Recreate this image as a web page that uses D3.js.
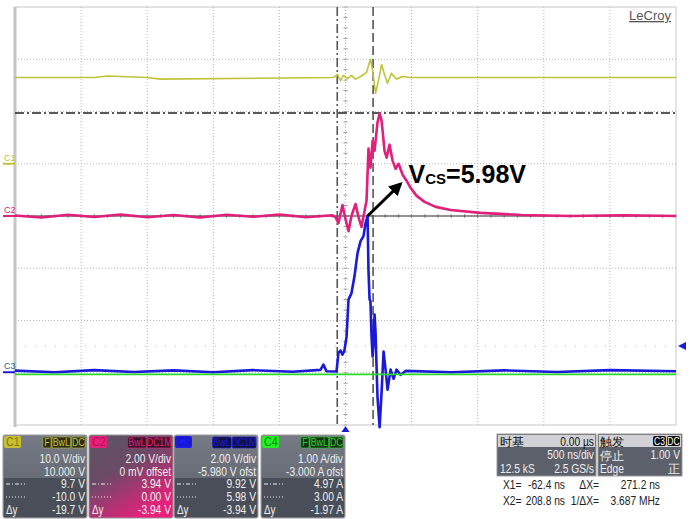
<!DOCTYPE html>
<html>
<head>
<meta charset="utf-8">
<script src="https://cdnjs.cloudflare.com/ajax/libs/d3/7.8.5/d3.min.js"></script>
<style>
	body { margin: 0; background: #fff; }
	#scope { width: 693px; height: 519px; }
	.panel text { font-family: "Liberation Sans", Arial, sans-serif; }
</style>
</head>
<body>
<div id="scope"></div>
<script>
// Scope capture data (time in ns, values in channel units)
var c1Time = [-2500, -1900, -1800, -1500, -1400, -91, -61, -38, -15, 15, 45, 76, 114, 159, 189, 205, 227, 250, 273, 295, 318, 348, 386, 432, 492, 2500];
var c1Volt = [16.5, 16.5, 16.8, 16.5, 16.2, 16.5, 17.1, 15.9, 16.9, 16.3, 16.9, 16.2, 16.7, 17.5, 20.0, 17.9, 13.5, 16.0, 19.0, 17.1, 15.4, 17.3, 16.2, 16.7, 16.5, 16.5];

var c2Time = [-2500, -2300, -2100, -1900, -1700, -1500, -1300, -1100, -900, -700, -500, -300, -100, -76, -53, -23, 0, 23, 45, 76, 98, 121, 144, 159, 174, 189, 205, 220, 242, 258, 273, 295, 311, 333, 356, 379, 402, 432, 462, 492, 538, 598, 682, 795, 1023, 1326, 1700, 2100, 2500];
var c2Volt = [0.02, -0.06, 0.05, -0.04, 0.06, -0.05, 0.04, -0.06, 0.05, -0.03, 0.06, -0.05, 0.03, -0.04, -0.27, 0.42, -0.12, -0.58, 0, 0.46, -0.04, -0.42, 0.19, 0.58, 2.58, 1.85, 2.88, 2.5, 3.58, 3.92, 3.65, 2.5, 2.23, 2.73, 2.12, 1.81, 2.0, 1.58, 1.35, 1.08, 0.77, 0.54, 0.35, 0.23, 0.12, 0.04, 0.0, 0.03, 0.0];

var c3Time = [-2500, -2200, -1900, -1600, -1300, -1000, -700, -400, -189, -167, -144, -68, -53, -38, -23, -8, 8, 23, 45, 68, 91, 114, 136, 152, 167, 174, 182, 189, 197, 205, 212, 220, 227, 235, 242, 258, 273, 288, 303, 318, 341, 364, 386, 417, 455, 800, 1200, 1600, 2000, 2500];
var c3Volt = [0.06, 0.0, 0.08, 0.01, 0.07, 0.0, 0.08, 0.02, 0.09, 0.29, 0.04, 0.03, 0.75, 0.83, 0.67, 0.83, 1.37, 2.79, 3.02, 3.67, 4.56, 5.02, 5.21, 5.71, 5.98, 3.87, 2.79, 2.71, 1.37, 0.6, 1.17, 2.21, 1.56, 0.21, -0.94, -2.1, -0.75, 0.79, 0.1, -0.67, 0.1, -0.25, 0.1, -0.1, 0.05, 0.0, 0.07, 0.01, 0.08, 0.04];

var c4Time = [-2500, 2500];
var c4Amp = [-0.03, -0.03];

// Channel settings (per div, offset) as shown in the info boxes
var chNames = ["C1", "C2", "C3", "C4"];
var chPerDiv = [10, 2, 2, 1];
var chOffset = [10, 0, -5.98, -3];
var chColors = ["#c2c23a", "#e0207a", "#1a1ad8", "#2ad82a"];
var chFlags = [["F", "BwL", "DC"], ["BwL", "DC1M"], ["BwL", "DC1M"], ["F", "BwL", "DC"]];
var chLine1 = ["10.0 V/div", "2.00 V/div", "2.00 V/div", "1.00 A/div"];
var chLine2 = ["10.000 V", "0 mV offset", "-5.980 V ofst", "-3.000 A ofst"];
var chCursorA = ["9.7 V", "3.94 V", "9.92 V", "4.97 A"];
var chCursorB = ["-10.0 V", "0.00 V", "5.98 V", "3.00 A"];
var chDeltaY = ["-19.7 V", "-3.94 V", "-3.94 V", "-1.97 A"];

// cursors
var cursorX1 = -62.4, cursorX2 = 208.8;       // ns
var cursorY1 = 3.94, cursorY2 = 0.0;          // C2 volts
var trigLevel = 1.00;                          // C3 volts

// annotation (arrow from C3 peak, label in C2 units)
var arrowTail = [167, 5.98];   // C3
var arrowHead = [417, 1.23];   // C2
var labelPos = [477, 1.25];    // C2

// condensed text helper (narrow scope font)
function ctext(g, x, y, str, opt){
	opt = opt || {};
	return g.append("text")
		.attr("transform", "translate(" + x + "," + y + ") scale(" + (opt.sx || 0.82) + ",1)")
		.attr("text-anchor", opt.anchor || "start")
		.attr("font-size", opt.size || 12.5)
		.attr("font-family", opt.family || null)
		.attr("fill", opt.fill || "#eee")
		.text(str);
}

function drawScope(){
	var W = 693, H = 519;
	var plot = {left: 15, right: 676, top: 7, bottom: 425};

	var svg = d3.select("#scope").append("svg")
				.attr("width", W).attr("height", H);
	var defs = svg.append("defs");

	// scales
	var x = d3.scaleLinear().domain([-2500, 2500]).range([plot.left, plot.right]);
	var yDiv = d3.scaleLinear().domain([-4, 4]).range([plot.bottom, plot.top]);
	function yCh(i){ // channel value -> pixel
		return function(v){ return yDiv((v + chOffset[i]) / chPerDiv[i]); };
	}

	// grid (dotted)
	var grid = svg.append("g").attr("class", "grid");
	grid.selectAll("line.v").data(d3.range(-2000, 2001, 500)).enter().append("line")
		.attr("x1", function(d){ return x(d); }).attr("x2", function(d){ return x(d); })
		.attr("y1", plot.top).attr("y2", plot.bottom)
		.attr("stroke", "#b4b4b4").attr("stroke-dasharray", "1,2");
	grid.selectAll("line.h").data(d3.range(-3, 4, 1)).enter().append("line")
		.attr("y1", function(d){ return yDiv(d); }).attr("y2", function(d){ return yDiv(d); })
		.attr("x1", plot.left).attr("x2", plot.right)
		.attr("stroke", "#b4b4b4").attr("stroke-dasharray", "1,2");

	// small ticks along the centre lines
	grid.selectAll("line.tx").data(d3.range(-2500, 2501, 100)).enter().append("line")
		.attr("x1", function(d){ return x(d); }).attr("x2", function(d){ return x(d); })
		.attr("y1", yDiv(0) - 2).attr("y2", yDiv(0) + 2)
		.attr("stroke", "#999");
	grid.selectAll("line.ty").data(d3.range(-4, 4.01, 0.2)).enter().append("line")
		.attr("y1", function(d){ return yDiv(d); }).attr("y2", function(d){ return yDiv(d); })
		.attr("x1", x(0) - 2).attr("x2", x(0) + 2)
		.attr("stroke", "#999");

	// frame
	svg.append("rect").attr("x", plot.left).attr("y", plot.top)
		.attr("width", plot.right - plot.left).attr("height", plot.bottom - plot.top)
		.attr("fill", "none").attr("stroke", "#c8c8c8");
	svg.append("line").attr("x1", plot.left).attr("x2", plot.left)
		.attr("y1", plot.top).attr("y2", plot.bottom + 2)
		.attr("stroke", "#c4c4c4").attr("stroke-width", 3);

	// LeCroy logo
	svg.append("text").attr("x", 671).attr("y", 20).attr("text-anchor", "end")
		.attr("font-family", "Liberation Sans, Arial, sans-serif").attr("font-size", 13)
		.attr("fill", "#555").attr("text-decoration", "underline").text("LeCroy");

	// trigger level (C3) sparse dotted line
	svg.append("line").attr("x1", plot.left).attr("x2", plot.right)
		.attr("y1", yCh(2)(trigLevel)).attr("y2", yCh(2)(trigLevel))
		.attr("stroke", "#bbb").attr("stroke-dasharray", "1,9");

	// horizontal cursors (on C2)
	svg.append("line").attr("x1", plot.left).attr("x2", plot.right)
		.attr("y1", yCh(1)(cursorY1)).attr("y2", yCh(1)(cursorY1))
		.attr("stroke", "#222").attr("stroke-width", 1.5).attr("stroke-dasharray", "9,3,2,3");
	svg.append("line").attr("x1", plot.left).attr("x2", plot.right)
		.attr("y1", yCh(1)(cursorY2)).attr("y2", yCh(1)(cursorY2))
		.attr("stroke", "#333").attr("stroke-width", 1.2);

	// vertical cursors
	svg.append("line").attr("x1", x(cursorX1)).attr("x2", x(cursorX1))
		.attr("y1", plot.top).attr("y2", plot.bottom)
		.attr("stroke", "#555").attr("stroke-width", 1.6).attr("stroke-dasharray", "9,3,2,3");
	svg.append("line").attr("x1", x(cursorX2)).attr("x2", x(cursorX2))
		.attr("y1", plot.top).attr("y2", plot.bottom)
		.attr("stroke", "#555").attr("stroke-width", 1.6).attr("stroke-dasharray", "9,4");

	// traces
	function trace(ts, vs, i, w){
		var pts = ts.map(function(t, k){ return [t, vs[k]]; });
		var line = d3.line().x(function(d){ return x(d[0]); }).y(function(d){ return yCh(i)(d[1]); });
		svg.append("path").datum(pts).attr("d", line)
			.attr("fill", "none").attr("stroke", chColors[i])
			.attr("stroke-width", w).attr("stroke-linejoin", "round");
	}
	trace(c1Time, c1Volt, 0, 1.6);
	trace(c2Time, c2Volt, 1, 2.6);
	trace(c3Time, c3Volt, 2, 2.6);
	trace(c4Time, c4Amp, 3, 1.8);

	// channel markers at left edge
	[0, 1, 2].forEach(function(i){
		var yy = yCh(i)(0);
		svg.append("line").attr("x1", 3).attr("x2", plot.left).attr("y1", yy).attr("y2", yy)
			.attr("stroke", chColors[i]).attr("stroke-width", 2);
		svg.append("text").attr("x", 4).attr("y", yy - 3)
			.attr("font-family", "Liberation Sans, Arial, sans-serif").attr("font-size", 9)
			.attr("fill", i == 2 ? "#1a6a8a" : chColors[i]).text(chNames[i]);
	});

	// trigger arrows
	var ty = yCh(2)(trigLevel);
	svg.append("path").attr("d", "M678," + ty + " l8,-4 l0,8 z").attr("fill", "#1a1ad8");
	svg.append("path").attr("d", "M" + x(0) + "," + (plot.bottom + 1) + " l-4,6 l8,0 z").attr("fill", "#1a1ad8");

	// annotation arrow + label
	defs.append("marker").attr("id", "ah").attr("viewBox", "0 0 10 10")
		.attr("refX", 8).attr("refY", 5).attr("markerWidth", 4.5).attr("markerHeight", 4.5)
		.attr("orient", "auto").append("path").attr("d", "M0,0 L10,5 L0,10 z").attr("fill", "#000");
	svg.append("line")
		.attr("x1", x(arrowTail[0])).attr("y1", yCh(2)(arrowTail[1]))
		.attr("x2", x(arrowHead[0])).attr("y2", yCh(1)(arrowHead[1]))
		.attr("stroke", "#000").attr("stroke-width", 3).attr("marker-end", "url(#ah)");
	var lbl = svg.append("text").attr("x", x(labelPos[0])).attr("y", yCh(1)(labelPos[1]))
		.attr("font-family", "Liberation Sans, Arial, sans-serif").attr("font-weight", "bold")
		.attr("font-size", 25).attr("fill", "#000");
	lbl.append("tspan").text("V");
	lbl.append("tspan").attr("font-size", 15).attr("dy", 1).text("CS");
	lbl.append("tspan").attr("dy", -1).text("=5.98V");

	// ---- bottom info panel ----
	var panel = svg.append("g").attr("class", "panel");
	var gd = defs.append("linearGradient").attr("id", "gGrey").attr("x1", 0).attr("y1", 0).attr("x2", 0).attr("y2", 1);
	gd.append("stop").attr("offset", "0").attr("stop-color", "#777b85");
	gd.append("stop").attr("offset", "1").attr("stop-color", "#5a5e68");
	var gp = defs.append("linearGradient").attr("id", "gPink").attr("x1", 0).attr("y1", 0).attr("x2", 0.6).attr("y2", 1);
	gp.append("stop").attr("offset", "0").attr("stop-color", "#5c5662");
	gp.append("stop").attr("offset", "0.45").attr("stop-color", "#6a4a66");
	gp.append("stop").attr("offset", "1").attr("stop-color", "#e8207c");

	var boxX = [3, 89, 174, 261], bw = 84, bTop = 435, bBot = 518;
	var badgeFill = ["#c8c030", "#e8207a", "#1a1aee", "#22ee22"];
	var badgeText = ["#7a7a18", "#a81458", "#1414a8", "#108a10"];
	var flagFill = ["#2e2e14", "#3a1428", "#12123e", "#143214"];

	chNames.forEach(function(name, i){
		var bx = boxX[i];
		var g = panel.append("g");
		g.append("rect").attr("x", bx).attr("y", bTop).attr("width", bw).attr("height", bBot - bTop)
			.attr("rx", 2).attr("fill", i == 1 ? "url(#gPink)" : "url(#gGrey)")
			.attr("stroke", "#9a9a9a");
		if (i != 1) {
			g.append("rect").attr("x", bx + 1).attr("y", 478).attr("width", bw - 2).attr("height", bBot - 479)
				.attr("fill", "#4a4e58");
		}
		// badge
		g.append("rect").attr("x", bx + 1).attr("y", bTop + 1).attr("width", 17).attr("height", 12)
			.attr("rx", 2).attr("fill", badgeFill[i]);
		ctext(g, bx + 3, bTop + 11, name, {size: 12, fill: badgeText[i], sx: 0.9});
		// flags
		var fx = bx + bw - 2;
		chFlags[i].slice().reverse().forEach(function(f){
			var fw = f.length * 5.2 + 3;
			fx -= fw;
			g.append("rect").attr("x", fx).attr("y", bTop + 2).attr("width", fw).attr("height", 11)
				.attr("rx", 1.5).attr("fill", flagFill[i]).attr("stroke", chColors[i]).attr("stroke-width", 0.6);
			ctext(g, fx + fw / 2, bTop + 11, f, {size: 11, fill: chColors[i], anchor: "middle", sx: 0.8});
			fx -= 1;
		});
		// values
		var rx = bx + bw - 2;
		var rows = [[chLine1[i], 463], [chLine2[i], 476], [chCursorA[i], 488], [chCursorB[i], 501], [chDeltaY[i], 514]];
		rows.forEach(function(r){
			ctext(g, rx, r[1], r[0], {anchor: "end"});
		});
		g.append("line").attr("x1", bx + 3).attr("x2", bx + 22).attr("y1", 484).attr("y2", 484)
			.attr("stroke", "#eee").attr("stroke-dasharray", "4,2,1,2");
		g.append("line").attr("x1", bx + 3).attr("x2", bx + 22).attr("y1", 497).attr("y2", 497)
			.attr("stroke", "#eee").attr("stroke-dasharray", "1,2");
		ctext(g, bx + 3, 514, "\u0394y", {size: 12});
	});

	// timebase box
	var tb = panel.append("g");
	var cjk = "Noto Sans CJK SC, sans-serif";
	tb.append("rect").attr("x", 497).attr("y", 434).attr("width", 99).attr("height", 42)
		.attr("fill", "#5c606a").attr("stroke", "#9a9a9a");
	tb.append("rect").attr("x", 498).attr("y", 435).attr("width", 97).attr("height", 12).attr("fill", "#d2d2d6");
	ctext(tb, 500, 446, "时基", {size: 12, fill: "#111", family: cjk, sx: 1});
	ctext(tb, 594, 446, "0.00 \u00b5s", {anchor: "end", fill: "#111"});
	ctext(tb, 594, 459, "500 ns/div", {anchor: "end"});
	ctext(tb, 500, 473, "12.5 kS");
	ctext(tb, 594, 473, "2.5 GS/s", {anchor: "end"});

	// trigger box
	var tr = panel.append("g");
	tr.append("rect").attr("x", 598).attr("y", 434).attr("width", 84).attr("height", 42)
		.attr("fill", "#5c606a").attr("stroke", "#9a9a9a");
	tr.append("rect").attr("x", 599).attr("y", 435).attr("width", 82).attr("height", 12).attr("fill", "#d2d2d6");
	ctext(tr, 600, 446, "触发", {size: 12, fill: "#111", family: cjk, sx: 1});
	[["C3", 653], ["DC", 667]].forEach(function(b){
		tr.append("rect").attr("x", b[1]).attr("y", 436).attr("width", 13).attr("height", 10).attr("rx", 2).attr("fill", "#111");
		ctext(tr, b[1] + 6.5, 445, b[0], {size: 10, fill: "#fff", anchor: "middle", sx: 0.85});
	});
	ctext(tr, 600, 460, "停止", {size: 12, family: cjk, sx: 1});
	ctext(tr, 680, 459, "1.00 V", {anchor: "end"});
	ctext(tr, 600, 473, "Edge");
	ctext(tr, 680, 473, "正", {size: 12, family: cjk, anchor: "end", sx: 1});

	// cursor readouts
	var rd = [["X1=", "-62.4 ns", "\u0394X=", "271.2 ns", 489], ["X2=", "208.8 ns", "1/\u0394X=", "3.687 MHz", 505]];
	rd.forEach(function(r){
		ctext(panel, 503, r[4], r[0], {fill: "#222"});
		ctext(panel, 565, r[4], r[1], {fill: "#222", anchor: "end"});
		ctext(panel, 599, r[4], r[2], {fill: "#222", anchor: "end"});
		ctext(panel, 660, r[4], r[3], {fill: "#222", anchor: "end"});
	});
}

drawScope();
</script>
</body>
</html>
